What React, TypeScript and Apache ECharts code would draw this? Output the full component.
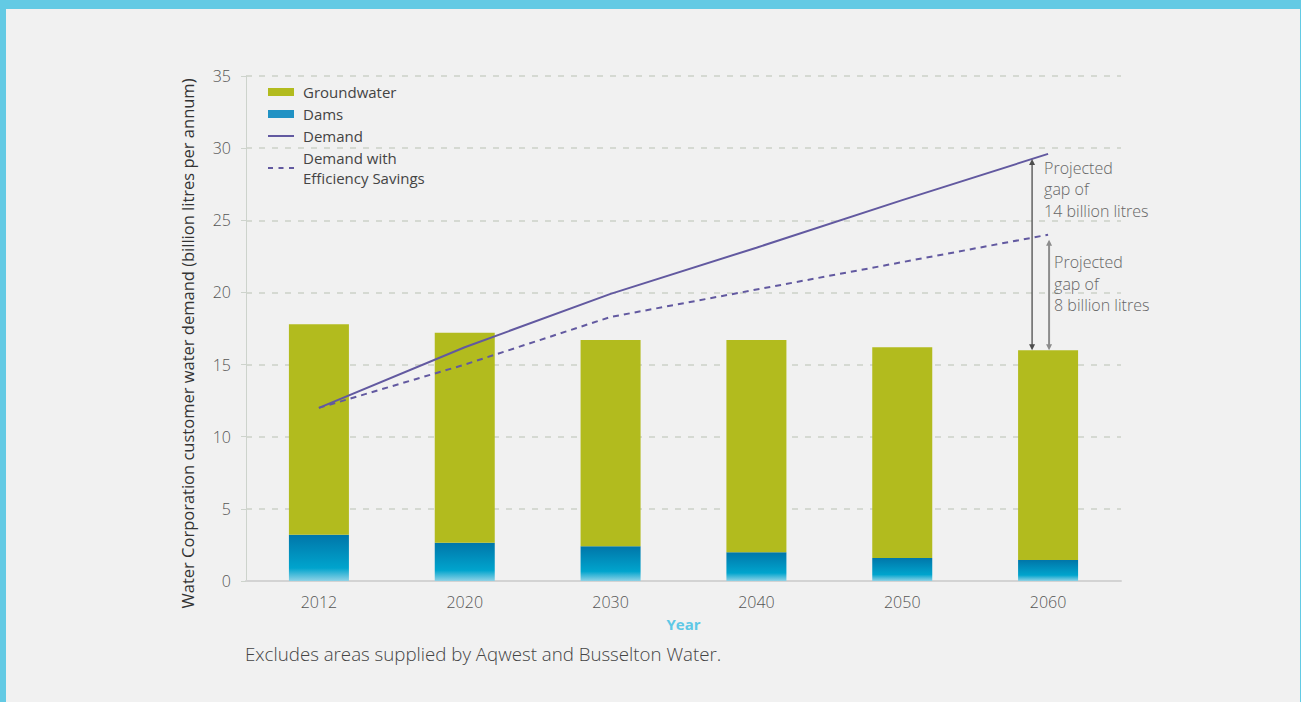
import React, { useEffect, useRef } from "react";
import * as echarts from "echarts";

const years = ["2012", "2020", "2030", "2040", "2050", "2060"];
const dams = [3.2, 2.65, 2.4, 2.0, 1.6, 1.45];
const groundwater = [14.6, 14.55, 14.3, 14.7, 14.6, 14.55];
const demand = [12.0, 16.2, 19.9, 23.1, 26.4, 29.6];
const demandEfficiency = [12.0, 15.0, 18.3, 20.2, 22.1, 24.0];
// gap annotations: [category index, low, high, pixel offset, style index]
const gaps = [
  [5, 16.0, 29.6, -16, 0],
  [5, 16.0, 24.0, 1, 1],
];
const gapLabels = ["Projected\ngap of\n14 billion litres", "Projected\ngap of\n8 billion litres"];
const yTicks = { min: 0, max: 35, interval: 5 };

const FONT = "'Open Sans', 'Noto Sans', sans-serif";
const LIGHT = 300;

export default function App() {
  const ref = useRef<HTMLDivElement>(null);
  useEffect(() => {
    if (!ref.current) return;
    const chart = echarts.init(ref.current, null, { renderer: "svg" });
    const purple = "#6259a0";
    chart.setOption({
      animation: false,
      backgroundColor: "#f1f1f1",
      textStyle: { fontFamily: FONT },
      grid: { left: 246, right: 180, top: 76, bottom: 121, containLabel: false },
      legend: {
        orient: "vertical",
        left: 263,
        top: 77,
        itemWidth: 26,
        itemHeight: 8,
        itemGap: 2,
        textStyle: { fontSize: 15, color: "#444", lineHeight: 20, fontFamily: FONT, padding: [0, 0, 0, 4] },
        data: [
          { name: "Groundwater", icon: "rect", itemStyle: { color: "#b2bb1e" } },
          { name: "Dams", icon: "rect", itemStyle: { color: "#2192c4" } },
          { name: "Demand", icon: "path://M0,0h26v2h-26z", itemStyle: { color: purple } },
          {
            name: "Demand with\nEfficiency Savings",
            icon: "path://M0,0h5v2h-5z M10.5,0h5v2h-5z M21,0h5v2h-5z",
            itemStyle: { color: purple },
          },
        ],
      },
      xAxis: {
        type: "category",
        data: years,
        name: "Year",
        nameLocation: "middle",
        nameGap: 35,
        nameTextStyle: { color: "#5ec8e6", fontWeight: "bold", fontSize: 15, fontFamily: FONT },
        axisLine: { show: true, lineStyle: { color: "#d3d3d3", width: 2 } },
        axisTick: { show: false },
        axisLabel: { color: "#555", fontSize: 16, fontWeight: LIGHT, margin: 13, fontFamily: FONT },
      },
      yAxis: {
        type: "value",
        min: yTicks.min,
        max: yTicks.max,
        interval: yTicks.interval,
        name: "Water Corporation customer water demand (billion litres per annum)",
        nameLocation: "middle",
        nameGap: 50,
        nameTextStyle: { color: "#333", fontSize: 16.5, fontFamily: FONT, padding: [0, 30, 0, 0] },
        axisLine: { show: true, lineStyle: { color: "#cdd3cc", width: 1 } },
        axisTick: { show: true, length: 5, lineStyle: { color: "#cdd3cc", width: 1 } },
        axisLabel: { color: "#555", fontSize: 16, fontWeight: LIGHT, margin: 15, fontFamily: FONT },
        splitLine: { show: true, lineStyle: { color: "#d5d9d2", width: 2, type: [6, 7] } },
      },
      series: [
        {
          name: "Dams",
          type: "bar",
          stack: "supply",
          barWidth: 60,
          data: dams,
          itemStyle: {
            color: new echarts.graphic.LinearGradient(0, 0, 0, 1, [
              { offset: 0, color: "#0076a9" },
              { offset: 0.72, color: "#00a4cd" },
              { offset: 1, color: "#8fd2e6" },
            ]),
          },
        },
        {
          name: "Groundwater",
          type: "bar",
          stack: "supply",
          barWidth: 60,
          data: groundwater,
          itemStyle: { color: "#b2bb1e" },
        },
        {
          name: "Demand",
          type: "line",
          data: demand,
          symbol: "none",
          lineStyle: { color: purple, width: 2 },
          itemStyle: { color: purple },
          z: 5,
        },
        {
          name: "Demand with\nEfficiency Savings",
          type: "line",
          data: demandEfficiency,
          symbol: "none",
          lineStyle: { color: purple, width: 2, type: [6, 5] },
          itemStyle: { color: purple },
          z: 5,
        },
        {
          name: "gaps",
          type: "custom",
          z: 6,
          silent: true,
          encode: { x: 0, y: [1, 2] },
          data: gaps,
          renderItem: (params: any, api: any) => {
            const idx = api.value(0);
            const lo = api.coord([idx, api.value(1)]);
            const hi = api.coord([idx, api.value(2)]);
            const off = api.value(3);
            const style = api.value(4);
            const x = lo[0] + off;
            const yTop = hi[1] + 5;
            const yBot = lo[1];
            const col = style === 0 ? "#4d4d4d" : "#8c8c8c";
            const label = gapLabels[params.dataIndex];
            return {
              type: "group",
              children: [
                { type: "line", shape: { x1: x, y1: yTop + 2, x2: x, y2: yBot - 2 }, style: { stroke: col, lineWidth: style === 0 ? 1.3 : 2 } },
                { type: "polygon", shape: { points: [[x, yTop], [x - 3, yTop + 6], [x + 3, yTop + 6]] }, style: { fill: col } },
                { type: "polygon", shape: { points: [[x, yBot], [x - 3, yBot - 6], [x + 3, yBot - 6]] }, style: { fill: col } },
                {
                  type: "text",
                  x: x + (style === 0 ? 12 : 5),
                  y: style === 0 ? yTop - 2 : yTop + 12,
                  style: {
                    text: label,
                    fill: "#666",
                    font: `${LIGHT} 16px ${FONT}`,
                    lineHeight: 21.5,
                    align: "left",
                    verticalAlign: "top",
                  },
                },
              ],
            };
          },
        },
      ],
      graphic: [
        { type: "rect", left: 0, top: 0, shape: { width: 1301, height: 9 }, style: { fill: "#63cae4" }, silent: true },
        { type: "rect", left: 0, top: 0, shape: { width: 6, height: 702 }, style: { fill: "#63cae4" }, silent: true },
        { type: "rect", right: 0, top: 0, shape: { width: 1, height: 702 }, style: { fill: "#63cae4" }, silent: true },
        {
          type: "text",
          left: 245,
          top: 644,
          style: {
            text: "Excludes areas supplied by Aqwest and Busselton Water.",
            fill: "#444",
            font: `${LIGHT} 18.7px ${FONT}`,
          },
        },
      ],
    });
    return () => chart.dispose();
  }, []);
  return (
    <div
      ref={ref}
      style={{ position: "fixed", left: 0, top: 0, width: 1301, height: 702 }}
    />
  );
}
